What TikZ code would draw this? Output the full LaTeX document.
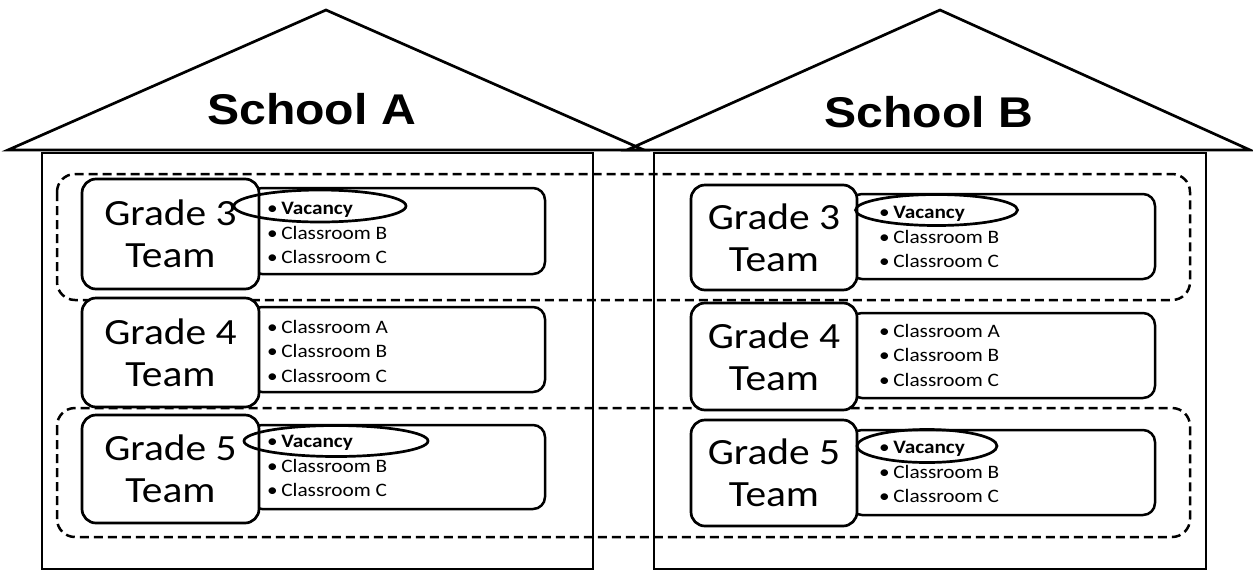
\documentclass[tikz,border=0pt]{standalone}
\usepackage{fontspec}
\usepackage{graphicx}
\setmainfont{Carlito}
\newfontfamily\schoolfont{Liberation Sans}
\usetikzlibrary{shapes.geometric}
% text is set slightly wide throughout
\newcommand\wide[1]{\scalebox{1.12}[1]{#1}}
\newcommand\teamtext[1]{\wide{Grade #1}\\\wide{Team}}
\newcommand\vacancylist{\wide{•\,\textbf{Vacancy}}\\\wide{•\,Classroom B}\\\wide{•\,Classroom C}}
\newcommand\fulllist{\wide{•\,Classroom A}\\\wide{•\,Classroom B}\\\wide{•\,Classroom C}}
\begin{document}
\begin{tikzpicture}[x=1pt,y=-1pt,
  wall/.style={line width=2.7pt, line join=miter},
  team/.style={draw, line width=2.7pt, rounded corners=14pt, fill=white,
    minimum width=177pt, minimum height=110pt, inner sep=0pt,
    font=\fontsize{37}{42}\selectfont, align=center},
  rooms/.style={draw, line width=2.5pt, rounded corners=12pt, fill=white,
    minimum width=295pt, minimum height=86pt, inner sep=0pt},
  items/.style={anchor=west, align=left, inner sep=0pt,
    font=\fontsize{19}{24.5}\selectfont},
  group/.style={line width=2.5pt, rounded corners=18pt, dash pattern=on 9pt off 5pt},
  vacancy/.style={draw, ellipse, line width=2.7pt, inner sep=0pt},
  title/.style={anchor=base, font=\schoolfont\bfseries\fontsize{43}{50}\selectfont}
]
\useasboundingbox (0,0) rectangle (1253,571);

% roofs and walls of the two schools
\draw[wall] (8,150) -- (326,10) -- (644,150) -- cycle;
\draw[wall] (627,150) -- (940,10) -- (1250,150) -- cycle;
\draw[wall] (42,153) rectangle (593,569);
\draw[wall] (654,153) rectangle (1206,569);
\node[title] (titleA) at (311.5,124) {\wide{School A}};
\node[title] (titleB) at (929,127) {\wide{School B}};

% grade groups shared across schools
\draw[group] (57,174) rectangle (1190,300);
\draw[group] (57,408) rectangle (1190,537);

% School A
\node[rooms] (roomsA3) at (397.5,231) {};
\node[team]  (teamA3)  at (170.5,234) {\teamtext{3}};
\node[items] (listA3)  at (267,233) {\vacancylist};
\node[vacancy, minimum width=172pt, minimum height=32pt] (vacA3) at (320,206) {};

\node[rooms, minimum height=85pt] (roomsA4) at (397.5,349.5) {};
\node[team, minimum height=109pt] (teamA4) at (170.5,352.5) {\teamtext{4}};
\node[items] (listA4) at (267,351) {\fulllist};

\node[rooms, minimum height=84pt] (roomsA5) at (397.5,467) {};
\node[team, minimum height=108pt] (teamA5) at (170.5,469) {\teamtext{5}};
\node[items] (listA5) at (267,466) {\vacancylist};
\node[vacancy, minimum width=184pt, minimum height=31pt] (vacA5) at (336,441) {};

% School B
\node[rooms, minimum width=305pt, minimum height=85pt] (roomsB3) at (1002.5,236.5) {};
\node[team, minimum width=166pt, minimum height=105pt] (teamB3) at (774,237.5) {\teamtext{3}};
\node[items] (listB3) at (879,237) {\vacancylist};
\node[vacancy, minimum width=162pt, minimum height=31pt] (vacB3) at (936.5,210) {};

\node[rooms, minimum width=305pt, minimum height=85pt] (roomsB4) at (1002.5,355.5) {};
\node[team, minimum width=166pt, minimum height=107pt] (teamB4) at (774,356.5) {\teamtext{4}};
\node[items] (listB4) at (879,355) {\fulllist};

\node[rooms, minimum width=305pt, minimum height=85pt] (roomsB5) at (1002.5,472.5) {};
\node[team, minimum width=166pt, minimum height=106pt] (teamB5) at (774,473) {\teamtext{5}};
\node[items] (listB5) at (879,472) {\vacancylist};
\node[vacancy, minimum width=140pt, minimum height=33pt] (vacB5) at (927,446) {};
\end{tikzpicture}
\end{document}
